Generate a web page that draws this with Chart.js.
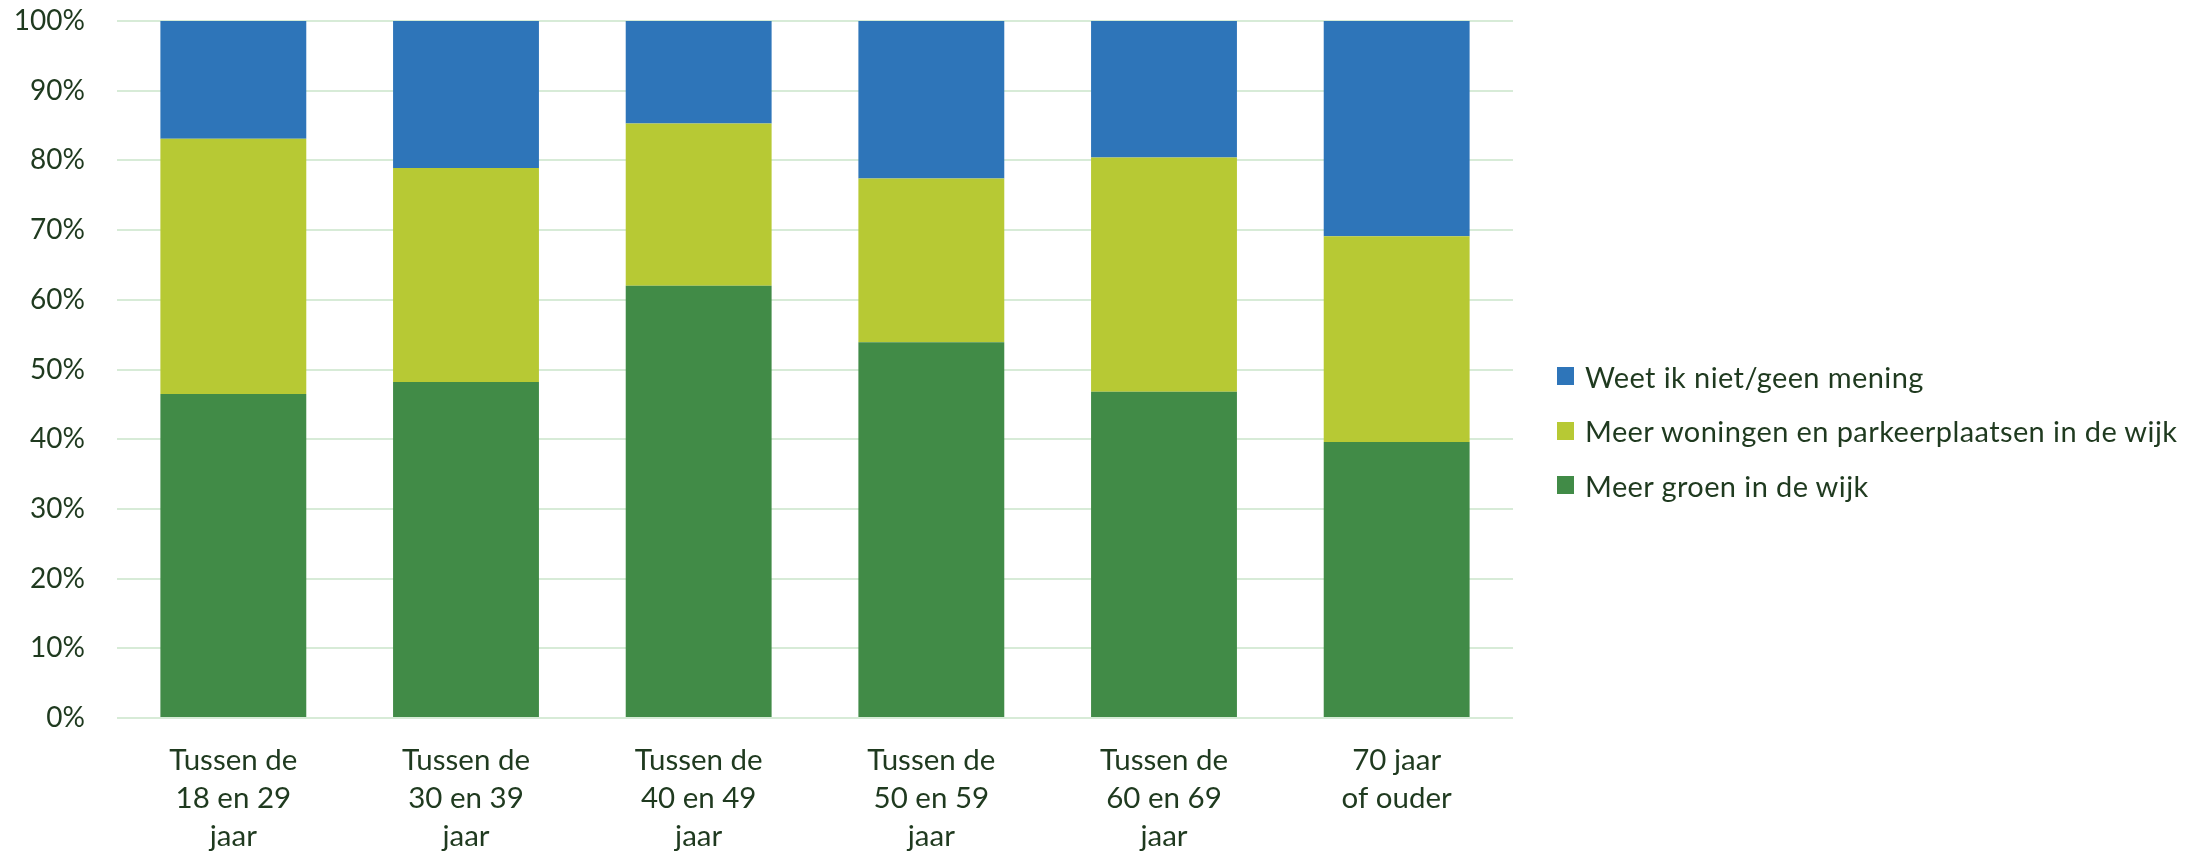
<!DOCTYPE html>
<html>
<head>
<meta charset="utf-8">
<script src="https://cdn.jsdelivr.net/npm/chart.js@4.4.1/dist/chart.umd.min.js"></script>
<style>
  html, body { margin: 0; padding: 0; background: #fff; }
  #wrap { position: relative; width: 2206px; height: 855px; }
  #legend {
    position: absolute; left: 1557px; top: 349px;
    margin: 0; padding: 0; list-style: none;
    font-family: Lato, 'Noto Sans', sans-serif; font-size: 29px; letter-spacing: 0.4px; color: #1f3a1f;
  }
  #legend li { display: flex; align-items: center; height: 54.5px; white-space: nowrap; }
  #legend span.box { display: inline-block; width: 17px; height: 18px; margin-right: 11px; }
</style>
</head>
<body>
<div id="wrap">
  <canvas id="myChart" width="2206" height="855"></canvas>
  <ul id="legend"></ul>
</div>
<script>
const categories = [
  ["Tussen de", "18 en 29", "jaar"],
  ["Tussen de", "30 en 39", "jaar"],
  ["Tussen de", "40 en 49", "jaar"],
  ["Tussen de", "50 en 59", "jaar"],
  ["Tussen de", "60 en 69", "jaar"],
  ["70 jaar", "of ouder"]
];
const meerGroen = [46.5, 48.2, 62.0, 53.9, 46.8, 39.6];
const meerWoningen = [36.6, 30.7, 23.3, 23.5, 33.6, 29.5];
const weetNiet = [16.9, 21.1, 14.7, 22.6, 19.6, 30.9];
const yTicks = [0, 10, 20, 30, 40, 50, 60, 70, 80, 90, 100];

const textColor = "#1f3a1f";
const fontFamily = "Lato, 'Noto Sans', sans-serif";

const ctx = document.getElementById("myChart");
const myChart = new Chart(ctx, {
  type: "bar",
  data: {
    labels: categories,
    datasets: [
      { label: "Meer groen in de wijk", data: meerGroen, backgroundColor: "#418b47" },
      { label: "Meer woningen en parkeerplaatsen in de wijk", data: meerWoningen, backgroundColor: "#b7c934" },
      { label: "Weet ik niet/geen mening", data: weetNiet, backgroundColor: "#2e75b9" }
    ]
  },
  options: {
    responsive: false,
    animation: false,
    layout: { padding: { top: 21, right: 693, bottom: 0, left: 0 } },
    datasets: {
      bar: { categoryPercentage: 1, barPercentage: 0.627, borderWidth: 0 }
    },
    scales: {
      x: {
        stacked: true,
        afterFit: (scale) => {
          scale.height = 137;
          scale.paddingLeft = 0;
          scale.paddingRight = 0;
        },
        grid: { display: false, drawTicks: false },
        border: { display: false },
        ticks: {
          color: textColor,
          padding: 23,
          maxRotation: 0,
          autoSkip: false,
          font: { family: fontFamily, size: 29.5, lineHeight: 1.288 }
        }
      },
      y: {
        stacked: true,
        min: 0,
        max: 100,
        afterFit: (scale) => {
          scale.width = 117;
          scale.paddingTop = 0;
          scale.paddingBottom = 0;
        },
        afterBuildTicks: (scale) => { scale.ticks = yTicks.map(v => ({ value: v })); },
        grid: { color: "#d7ebd7", lineWidth: 2, drawTicks: false },
        border: { display: false },
        ticks: {
          color: textColor,
          padding: 32,
          callback: (v) => v + "%",
          font: { family: fontFamily, size: 28 }
        }
      }
    },
    plugins: {
      tooltip: { enabled: false },
      legend: { display: false }
    }
  }
});

// legend built from the chart's datasets, top item = last series
const legendEl = document.getElementById("legend");
myChart.data.datasets.slice().reverse().forEach((ds) => {
  const li = document.createElement("li");
  const box = document.createElement("span");
  box.className = "box";
  box.style.background = ds.backgroundColor;
  li.appendChild(box);
  li.appendChild(document.createTextNode(ds.label));
  legendEl.appendChild(li);
});
</script>
</body>
</html>
